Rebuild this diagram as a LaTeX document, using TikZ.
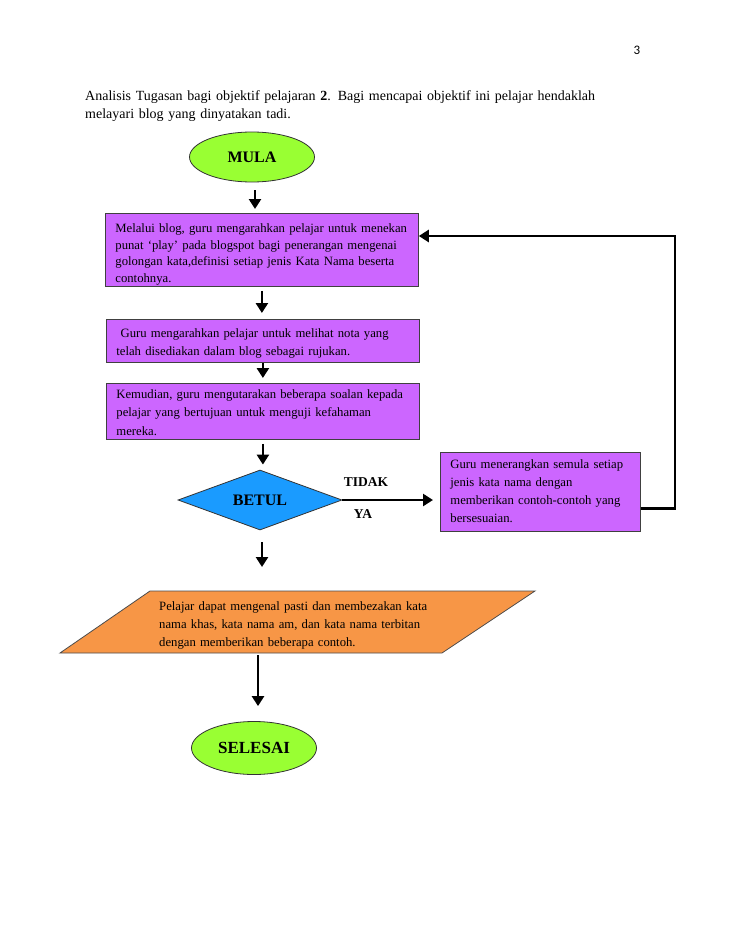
\documentclass[tikz,border=0pt]{standalone}
\usepackage{fontspec}
\setmainfont{Liberation Serif}
\newfontfamily\pagenumfont{Carlito}
\usetikzlibrary{shapes.geometric,arrows.meta}
\definecolor{termgreen}{HTML}{99FF33}
\definecolor{boxpurple}{HTML}{CC66FF}
\definecolor{decblue}{HTML}{1A9BFF}
\definecolor{paraorange}{HTML}{F79646}
\newcommand\boxline[1]{\mbox{#1}}
\tikzset{
  term/.style={ellipse,draw=black!80,line width=0.8pt,fill=termgreen,font=\fontsize{16}{18}\selectfont\bfseries,inner sep=0pt},
  stepbox/.style={rectangle,draw=black!75,line width=0.8pt,fill=boxpurple,align=left,inner xsep=10pt,inner ysep=0pt,anchor=north west},
  arr/.style={line width=2.5pt,-{Triangle[length=10pt,width=12pt]}},
  lbl/.style={font=\fontsize{13.5}{15}\selectfont\bfseries,inner sep=0pt}
}
\begin{document}
\begin{tikzpicture}[x=1pt,y=-1pt]
\useasboundingbox (0,0) rectangle (728,942);
\fill[white] (0,0) rectangle (728,942);
\node[font=\pagenumfont\fontsize{13}{15}\selectfont,inner sep=0pt] (pg) at (637,50) {3};
\node[anchor=base west,inner sep=0pt,align=left,text width=620pt,font=\fontsize{14}{18}\selectfont] (hdr) at (85,100)
  {\boxline{Analisis Tugasan bagi objektif pelajaran \textbf{2}. Bagi mencapai objektif ini pelajar hendaklah}\\melayari blog yang dinyatakan tadi.};
\node[term,minimum width=125pt,minimum height=50pt] (mula) at (252,157) {MULA};
\node[stepbox,text width=293pt,text height=19pt,text depth=54pt,font=\fontsize{12.7}{16.7}\selectfont] (b1) at (105,213)
  {\boxline{Melalui blog, guru mengarahkan pelajar untuk menekan}\\\boxline{punat `play' pada blogspot bagi penerangan mengenai}\\\boxline{golongan kata,definisi setiap jenis Kata Nama beserta}\\contohnya.};
\node[stepbox,text width=293pt,text height=18pt,text depth=25pt,font=\fontsize{12.7}{18}\selectfont] (b2) at (106,319)
  {\boxline{\ Guru mengarahkan pelajar untuk melihat nota yang}\\\boxline{telah disediakan dalam blog sebagai rujukan.}};
\node[stepbox,text width=293pt,text height=15pt,text depth=41pt,font=\fontsize{12.7}{18.5}\selectfont] (b3) at (106,383)
  {\boxline{Kemudian, guru mengutarakan beberapa soalan kepada}\\\boxline{pelajar yang bertujuan untuk menguji kefahaman}\\mereka.};
\node[diamond,draw=black!80,line width=0.8pt,fill=decblue,minimum width=164pt,minimum height=60pt,aspect=2.7,inner sep=0pt,font=\fontsize{16}{18}\selectfont\bfseries] (betul) at (260,500) {BETUL};
\node[stepbox,text width=180pt,text height=16pt,text depth=63pt,font=\fontsize{12.7}{18}\selectfont] (b4) at (440,452)
  {\boxline{Guru menerangkan semula setiap}\\\boxline{jenis kata nama dengan}\\\boxline{memberikan contoh-contoh yang}\\bersesuaian.};
\node[lbl] (tidak) at (366,482) {TIDAK};
\node[lbl] (ya) at (363,514) {YA};
% parallelogram
\coordinate (pbl) at (60,653);
\coordinate (ptl) at (150,591);
\coordinate (ptr) at (535,591);
\coordinate (pbr) at (442,653);
\fill[paraorange,draw=black!70,line width=0.8pt] (pbl) -- (ptl) -- (ptr) -- (pbr) -- cycle;
\node[anchor=base west,align=left,inner sep=0pt,text width=300pt,font=\fontsize{12.7}{18}\selectfont] (para) at (159,610)
  {\boxline{Pelajar dapat mengenal pasti dan membezakan kata}\\\boxline{nama khas, kata nama am, dan kata nama terbitan}\\dengan memberikan beberapa contoh.};
\coordinate (pbot) at (258,653);
\node[term,minimum width=125pt,minimum height=53pt,font=\fontsize{17}{19}\selectfont\bfseries] (selesai) at (254,748) {SELESAI};
% connectors
\draw[arr] ([shift={(3,8)}]mula.south) -- ([shift={(3,-4)}]mula.south |- b1.north);
\draw[arr] ([shift={(0,4)}]b1.south) -- ([shift={(0,-6)}]b1.south |- b2.north);
\draw[arr] (b2.south) -- ([shift={(0,-5)}]b2.south |- b3.north);
\draw[arr] ([shift={(0,4)}]b3.south) -- ([shift={(0,-5)}]b3.south |- betul.north);
\draw[arr] (betul.east) -- ([shift={(-7,0)}]b4.west |- betul.east);
\draw[arr] ([shift={(2,12)}]betul.south) -- ([shift={(2,-24)}]betul.south |- ptl);
\draw[arr] ([shift={(0,2)}]pbot) -- ([shift={(0,-15)}]pbot |- selesai.north);
\coordinate (loopr) at (675,236);
\draw[line width=2.5pt,-{Triangle[length=10pt,width=12pt]}] ([shift={(0,16.5)}]b4.east) -| (loopr) -- (b1.east |- loopr);
\end{tikzpicture}
\end{document}
